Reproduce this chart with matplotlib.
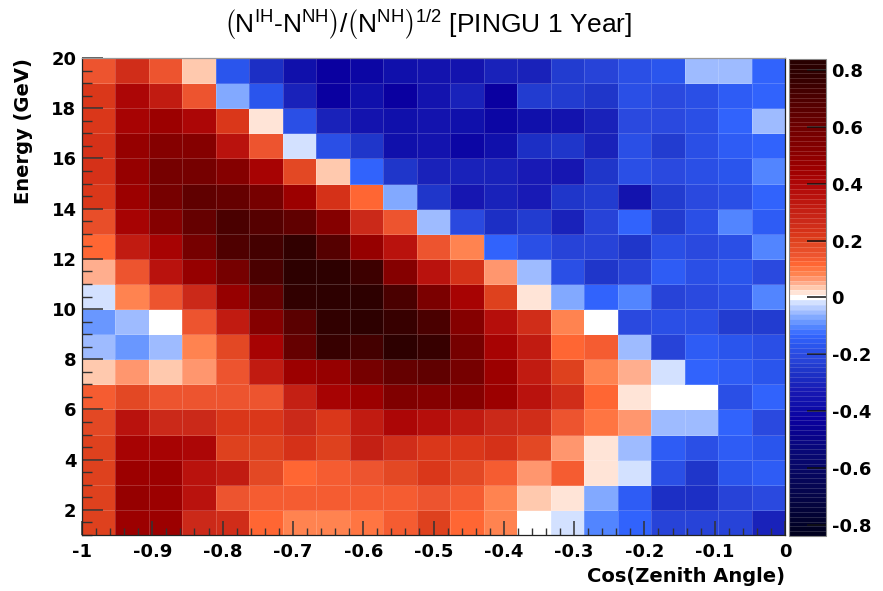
import numpy as np
import matplotlib
matplotlib.use("Agg")
import matplotlib.pyplot as plt
from matplotlib.colors import LinearSegmentedColormap, BoundaryNorm
from matplotlib.ticker import MultipleLocator

# ---------------- data ----------------
cos_edges = np.linspace(-1.0, 0.0, 22)          # 21 bins in cos(zenith)
energy_edges = np.arange(1, 21)                 # 19 bins, 1..20 GeV

# rows from 1-2 GeV (bottom) to 19-20 GeV (top); 21 values each (cos -1 -> 0)
row01 = [0.20, 0.45, 0.45, 0.27, 0.25, 0.12, 0.08, 0.08, 0.11, 0.13, 0.20, 0.12, 0.08, 0.00, -0.02, -0.10, -0.13, -0.22, -0.22, -0.22, -0.30]
row02 = [0.20, 0.47, 0.45, 0.35, 0.15, 0.14, 0.13, 0.13, 0.13, 0.13, 0.15, 0.14, 0.08, 0.04, 0.02, -0.07, -0.15, -0.28, -0.28, -0.22, -0.21]
row03 = [0.20, 0.45, 0.45, 0.35, 0.32, 0.18, 0.12, 0.13, 0.16, 0.18, 0.22, 0.19, 0.14, 0.06, 0.13, 0.02, -0.02, -0.19, -0.26, -0.17, -0.15]
row04 = [0.20, 0.42, 0.42, 0.40, 0.20, 0.20, 0.23, 0.20, 0.30, 0.25, 0.22, 0.22, 0.23, 0.19, 0.06, 0.02, -0.05, -0.16, -0.19, -0.15, -0.17]
row05 = [0.18, 0.35, 0.27, 0.27, 0.22, 0.22, 0.27, 0.22, 0.33, 0.40, 0.38, 0.32, 0.27, 0.25, 0.16, 0.11, 0.06, -0.05, -0.05, -0.14, -0.21]
row06 = [0.14, 0.18, 0.15, 0.16, 0.16, 0.15, 0.30, 0.42, 0.45, 0.55, 0.52, 0.52, 0.45, 0.35, 0.25, 0.12, 0.02, 0.00, 0.00, -0.19, -0.13]
row07 = [0.03, 0.06, 0.04, 0.06, 0.15, 0.32, 0.45, 0.47, 0.58, 0.63, 0.65, 0.58, 0.45, 0.33, 0.20, 0.08, 0.05, -0.02, -0.13, -0.15, -0.17]
row08 = [-0.05, -0.08, -0.05, 0.08, 0.18, 0.42, 0.63, 0.76, 0.73, 0.79, 0.77, 0.58, 0.42, 0.33, 0.12, 0.14, -0.05, -0.22, -0.15, -0.17, -0.18]
row09 = [-0.08, -0.05, 0.00, 0.15, 0.32, 0.52, 0.67, 0.78, 0.79, 0.76, 0.72, 0.52, 0.38, 0.25, 0.08, 0.00, -0.21, -0.18, -0.18, -0.23, -0.23]
row10 = [-0.02, 0.08, 0.15, 0.27, 0.47, 0.63, 0.78, 0.80, 0.79, 0.72, 0.56, 0.42, 0.20, 0.02, -0.07, -0.13, -0.10, -0.22, -0.21, -0.18, -0.10]
row11 = [0.05, 0.15, 0.35, 0.47, 0.58, 0.72, 0.79, 0.79, 0.75, 0.52, 0.35, 0.23, 0.06, -0.05, -0.18, -0.26, -0.22, -0.15, -0.18, -0.17, -0.21]
row12 = [0.12, 0.32, 0.42, 0.58, 0.70, 0.73, 0.78, 0.68, 0.47, 0.36, 0.15, 0.08, -0.13, -0.19, -0.22, -0.22, -0.25, -0.19, -0.21, -0.19, -0.10]
row13 = [0.17, 0.42, 0.52, 0.63, 0.72, 0.68, 0.65, 0.52, 0.27, 0.15, -0.05, -0.21, -0.28, -0.24, -0.30, -0.22, -0.13, -0.23, -0.19, -0.10, -0.15]
row14 = [0.22, 0.45, 0.58, 0.65, 0.63, 0.58, 0.45, 0.23, 0.12, -0.06, -0.25, -0.34, -0.30, -0.32, -0.26, -0.24, -0.35, -0.23, -0.21, -0.19, -0.13]
row15 = [0.23, 0.47, 0.58, 0.58, 0.52, 0.42, 0.18, 0.04, -0.13, -0.26, -0.30, -0.30, -0.30, -0.32, -0.34, -0.26, -0.19, -0.21, -0.18, -0.17, -0.10]
row16 = [0.23, 0.47, 0.52, 0.52, 0.35, 0.15, -0.02, -0.19, -0.26, -0.38, -0.35, -0.40, -0.37, -0.28, -0.26, -0.30, -0.19, -0.23, -0.18, -0.15, -0.13]
row17 = [0.22, 0.42, 0.45, 0.40, 0.22, 0.02, -0.19, -0.30, -0.36, -0.37, -0.35, -0.37, -0.40, -0.37, -0.35, -0.31, -0.21, -0.21, -0.18, -0.14, -0.05]
row18 = [0.22, 0.40, 0.32, 0.15, -0.06, -0.17, -0.30, -0.42, -0.37, -0.43, -0.35, -0.31, -0.43, -0.24, -0.23, -0.26, -0.19, -0.21, -0.18, -0.15, -0.13]
row19 = [0.15, 0.25, 0.15, 0.04, -0.17, -0.28, -0.37, -0.43, -0.40, -0.38, -0.35, -0.35, -0.30, -0.31, -0.24, -0.22, -0.18, -0.17, -0.05, -0.05, -0.13]

significance = np.array([row01, row02, row03, row04, row05, row06, row07, row08, row09, row10,
                         row11, row12, row13, row14, row15, row16, row17, row18, row19])

x_ticks = [-1.0, -0.9, -0.8, -0.7, -0.6, -0.5, -0.4, -0.3, -0.2, -0.1, 0.0]
x_ticklabels = ["-1", "-0.9", "-0.8", "-0.7", "-0.6", "-0.5", "-0.4", "-0.3", "-0.2", "-0.1", "0"]
y_ticks = [2, 4, 6, 8, 10, 12, 14, 16, 18, 20]
cb_ticks = [-0.8, -0.6, -0.4, -0.2, 0.0, 0.2, 0.4, 0.6, 0.8]
cb_ticklabels = ["-0.8", "-0.6", "-0.4", "-0.2", "0", "0.2", "0.4", "0.6", "0.8"]
zmin, zmax = -0.84, 0.84

# ---------------- colormap ----------------
nodes = [(-0.84, "#00001e"), (-0.70, "#05054a"), (-0.55, "#080875"), (-0.43, "#0a00a0"),
         (-0.38, "#1010aa"), (-0.33, "#1818b4"), (-0.29, "#1a2ac0"), (-0.25, "#2038cc"),
         (-0.21, "#2a48dd"), (-0.17, "#2a55ee"), (-0.13, "#3366ff"), (-0.10, "#5588ff"),
         (-0.07, "#80a8ff"), (-0.05, "#a0bcff"), (-0.02, "#ccdcff"), (0.00, "#ffffff"),
         (0.02, "#ffe0d0"), (0.04, "#ffc0a0"), (0.06, "#ffa080"), (0.08, "#ff8855"),
         (0.12, "#ff6633"), (0.15, "#ee5530"), (0.20, "#e04420"), (0.23, "#d83318"),
         (0.27, "#cc2a1a"), (0.33, "#c01a10"), (0.40, "#b00808"), (0.45, "#a00000"),
         (0.52, "#880000"), (0.58, "#770000"), (0.65, "#600000"), (0.72, "#4a0000"),
         (0.79, "#300000"), (0.84, "#280000")]
nlev = 99
cmap = LinearSegmentedColormap.from_list(
    "root_rb", [((v - zmin) / (zmax - zmin), c) for v, c in nodes], N=nlev)
norm = BoundaryNorm(np.linspace(zmin, zmax, nlev + 1), ncolors=nlev)

# ---------------- figure ----------------
W, H = 883, 591
fig = plt.figure(figsize=(W / 100, H / 100), dpi=100)
fig.patch.set_facecolor("white")

def fx(px):
    return px / W

def fy(py):
    return 1 - py / H

ax_l, ax_r, ax_t, ax_b = 82, 785, 58, 535
ax = fig.add_axes([fx(ax_l), fy(ax_b), fx(ax_r - ax_l), (ax_b - ax_t) / H])

mesh = ax.pcolormesh(cos_edges, energy_edges, significance, cmap=cmap, norm=norm,
                     edgecolors=(1, 1, 1, 0.18), linewidth=0.5)
ax.set_xlim(-1, 0)
ax.set_ylim(1, 20)

tick_font = dict(family="DejaVu Sans", weight="bold", size=13)
ax.set_xticks(x_ticks)
ax.set_xticklabels(x_ticklabels, fontdict=tick_font)
ax.set_yticks(y_ticks)
ax.set_yticklabels([str(v) for v in y_ticks], fontdict=tick_font)
ax.xaxis.set_minor_locator(MultipleLocator(0.02))
ax.yaxis.set_minor_locator(MultipleLocator(0.5))
ax.tick_params(axis="x", which="major", direction="in", length=10, width=1.1,
               pad=6, color="#333333", top=False)
ax.tick_params(axis="x", which="minor", direction="in", length=5, width=1.0,
               color="#333333", top=False)
ax.tick_params(axis="y", which="major", direction="in", length=15, width=1.1,
               pad=4, color="#333333", right=False)
ax.tick_params(axis="y", which="minor", direction="in", length=7.5, width=1.0,
               color="#333333", right=False)
for s in ax.spines.values():
    s.set_linewidth(0.9)
    s.set_color("#222222")
ax.spines["top"].set_color("#999999")

# colorbar
cax = fig.add_axes([fx(789), fy(536), fx(826 - 789), (536 - 59) / H])
cb = fig.colorbar(mesh, cax=cax, drawedges=True)
cb.dividers.set_color((1, 1, 1, 0.22))
cb.dividers.set_linewidth(0.5)
cb.outline.set_edgecolor("#888888")
cb.outline.set_linewidth(0.8)
cb.set_ticks(cb_ticks)
cb.set_ticklabels(cb_ticklabels)
cax.tick_params(direction="in", length=14, width=1.1, pad=4, color="#111111")
for lab in cax.get_yticklabels():
    lab.set_fontfamily("DejaVu Sans")
    lab.set_fontweight("bold")
    lab.set_fontsize(13)
cax.minorticks_off()

# axis titles
lab_font = dict(family="DejaVu Sans", weight="bold", size=14)
fig.text(fx(785), fy(577), "Cos(Zenith Angle)", ha="right", va="center", **lab_font)
fig.text(fx(24), fy(58), "Energy (GeV)", ha="center", va="top", rotation=90, **lab_font)

# title
plt.rcParams["mathtext.fontset"] = "custom"
plt.rcParams["mathtext.rm"] = "Liberation Sans"
plt.rcParams["mathtext.it"] = "Liberation Sans:italic"
plt.rcParams["mathtext.bf"] = "Liberation Sans:bold"
title = (r"$\left(\mathrm{N}^{\mathrm{IH}}\text{-}\mathrm{N}^{\mathrm{NH}}_{\,}\right)/"
         r"\left(\mathrm{N}^{\mathrm{NH}}_{\,}\right)^{1/2}$ [PINGU 1 Year]")
fig.text(fx(428), fy(25), title, ha="center", va="center",
         family="Liberation Sans", size=19)

fig.savefig("out.png", dpi=100)
